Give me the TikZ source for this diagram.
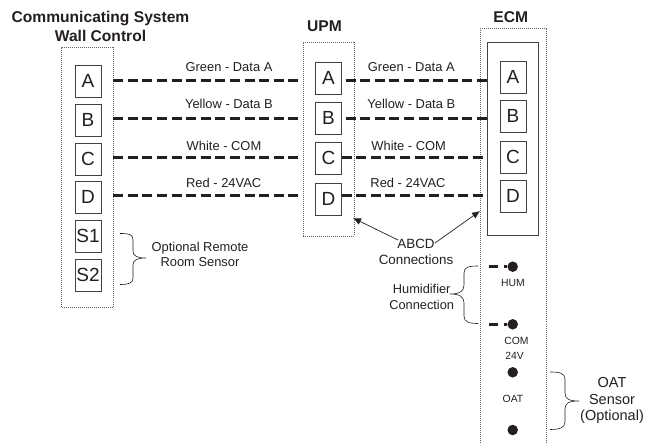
\documentclass[tikz,border=0pt]{standalone}
\usepackage{fontspec}
\setmainfont{Liberation Sans}
\usetikzlibrary{arrows.meta}
\definecolor{ink}{HTML}{231F20}
\tikzset{
  x=1pt,y=-1pt,
  every node/.style={inner sep=0pt,outer sep=0pt,text=ink},
  dotbox/.style={draw=ink!70,line width=0.6pt,dash pattern=on 1pt off 1pt,fill=none},
  sq/.style={draw=ink!85,line width=0.9pt,fill=white,minimum width=26pt,minimum height=32pt,font=\fontsize{19}{19}\selectfont},
  wire/.style={draw=ink,line width=2.8pt,dash pattern=on 10pt off 4.6pt},
  lab/.style={font=\fontsize{12.9}{15}\selectfont},
  ttl/.style={font=\bfseries\fontsize{15.6}{18.5}\selectfont,align=center},
  small/.style={font=\fontsize{10.4}{12}\selectfont},
  dot/.style={circle,fill=ink,minimum size=10.5pt},
  brace/.style={draw=ink,line width=0.6pt},
  arr/.style={draw=ink,line width=0.7pt,-{Latex[length=8pt,width=7pt]}}
}
\begin{document}
\begin{tikzpicture}
\useasboundingbox (0,0) rectangle (655,443);
% containers
\node[dotbox,minimum width=51.5pt,minimum height=260pt] (wall) at (87.5,177) {};
\node[dotbox,minimum width=51.5pt,minimum height=194pt] (upm) at (328.7,139) {};
\node[dotbox,minimum width=65.5pt,minimum height=415pt] (ecm) at (513.5,235.5) {};
\node[draw=ink!85,line width=0.9pt,minimum width=51.5pt,minimum height=193pt] (inner) at (512.8,138.5) {};
% titles
\node[ttl] (t1) at (100.5,26.5) {Communicating System\\Wall Control};
\node[ttl] (t2) at (324.5,26) {UPM};
\node[ttl] (t3) at (510.7,16.7) {ECM};
% wall squares
\node[sq] (wA) at (88,81) {A};
\node[sq] (wB) at (88,120) {B};
\node[sq] (wC) at (88,159) {C};
\node[sq] (wD) at (88,197) {D};
\node[sq] (wS1) at (88,236) {S1};
\node[sq] (wS2) at (88,275) {S2};
% UPM squares
\node[sq] (uA) at (328.5,78) {A};
\node[sq] (uB) at (328.5,118) {B};
\node[sq] (uC) at (328.5,158) {C};
\node[sq] (uD) at (328.5,199) {D};
% ECM squares
\node[sq] (eA) at (513,77) {A};
\node[sq] (eB) at (513,116) {B};
\node[sq] (eC) at (513,157) {C};
\node[sq] (eD) at (513,196) {D};
% wires
\coordinate (la) at (0,80.3);
\coordinate (lb) at (0,118.3);
\coordinate (lc) at (0,157.3);
\coordinate (ld) at (0,195.5);
\path[wire] (wall.east |- la) -- (upm.west |- la);
\path[wire] (wall.east |- lb) -- (upm.west |- lb);
\path[wire] (wall.east |- lc) -- (upm.west |- lc);
\path[wire] (wall.east |- ld) -- (upm.west |- ld);
\path[wire] ([xshift=4pt]uA.east |- la) -- (inner.west |- la);
\path[wire] ([xshift=4pt]uB.east |- lb) -- (inner.west |- lb);
\path[wire] (uC.east |- lc) -- (inner.west |- lc);
\path[wire] (uD.east |- ld) -- (inner.west |- ld);
% wire labels
\node[lab] (g1) at (229,67.5) {Green - Data A};
\node[lab] (y1) at (229,103.5) {Yellow - Data B};
\node[lab] (w1) at (224,145.5) {White - COM};
\node[lab] (r1) at (223.7,183) {Red - 24VAC};
\node[lab] (g2) at (411.3,67.5) {Green - Data A};
\node[lab] (y2) at (411.3,103.5) {Yellow - Data B};
\node[lab] (w2) at (408.7,145.5) {White - COM};
\node[lab] (r2) at (408,183) {Red - 24VAC};
% remote sensor
\node[lab,align=center] (rs) at (200,254) {Optional Remote\\Room Sensor};
\draw[brace] (120,233.5) .. controls (129,233.5) and (133,234) .. (133,240) -- (133,251) .. controls (133,256) and (137,258) .. (146,258) .. controls (137,258) and (133,260) .. (133,265) -- (133,278) .. controls (133,283) and (129,284.5) .. (120,284.5);
% ABCD
\node[font=\fontsize{13.4}{16}\selectfont,align=center] (abcd) at (416,252) {ABCD\\Connections};
\coordinate (au) at (353,218);
\coordinate (ae) at (480,211);
\coordinate (s1) at (398,240);
\coordinate (s2) at (435,243);
\draw[arr] (s1) -- (au);
\draw[arr] (s2) -- (ae);
% ECM terminals
\node[dot] (d1) at (512.7,266.7) {};
\node[dot] (d2) at (512.7,324.3) {};
\node[dot] (d3) at (512.7,372.3) {};
\node[dot] (d4) at (512.7,430) {};
\coordinate (h1) at (489,266.7);
\coordinate (h2) at (489,324.3);
\draw[draw=ink,line width=2.8pt,dash pattern=on 9pt off 6pt] (h1) -- (d1);
\draw[draw=ink,line width=2.8pt,dash pattern=on 9pt off 6pt] (h2) -- (d2);
\node[small] (hum) at (513,282.5) {HUM};
\node[small] (com) at (516.5,341) {COM};
\node[small] (v24) at (514.5,355.5) {24V};
\node[small] (oat) at (513,399) {OAT};
% humidifier
\node[font=\fontsize{12.8}{16.5}\selectfont,align=center] (hc) at (421.7,297) {Humidifier\\Connection};
\draw[brace] (478,266) .. controls (469,266) and (464,267) .. (464,273) -- (464,285) .. controls (464,291) and (460,294) .. (450,294) .. controls (460,294) and (464,297) .. (464,303) -- (464,316) .. controls (464,322) and (469,323.5) .. (478,323.5);
% OAT sensor
\node[font=\fontsize{14.5}{16.5}\selectfont,align=center] (os) at (612,400.5) {OAT\\Sensor\\(Optional)};
\draw[brace] (550,372) .. controls (559,372) and (565,373) .. (565,379) -- (565,393) .. controls (565,399) and (569,401) .. (579,401) .. controls (569,401) and (565,403) .. (565,409) -- (565,422) .. controls (565,428) and (559,429.5) .. (550,429.5);
\end{tikzpicture}
\end{document}
